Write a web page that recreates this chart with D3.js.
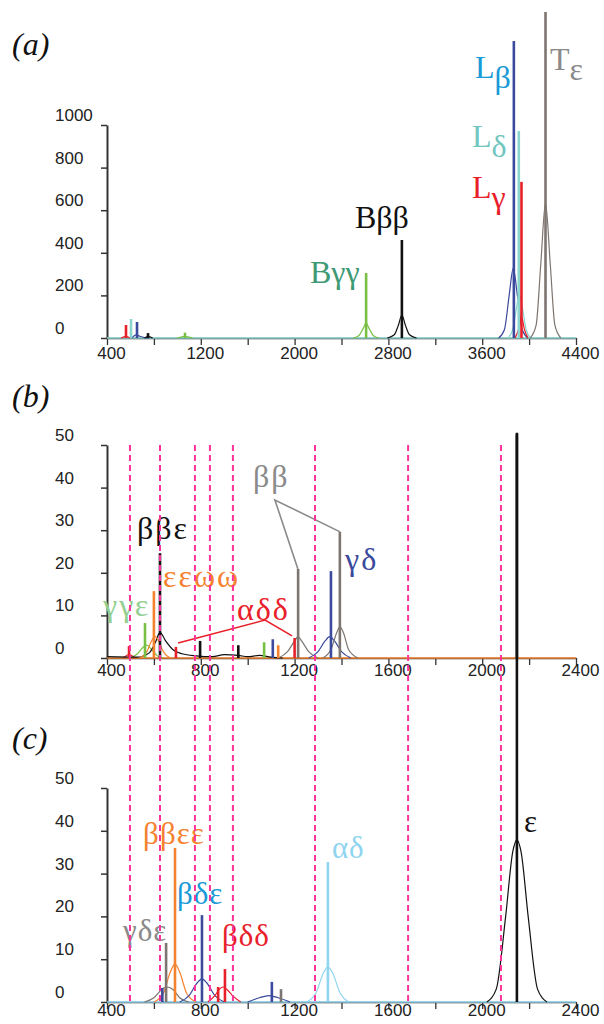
<!DOCTYPE html>
<html><head><meta charset="utf-8">
<script src="https://cdn.jsdelivr.net/npm/d3@7"></script>
<style>
html,body{margin:0;padding:0;background:#fff;}
svg{display:block;}
.tk text{font-family:"Liberation Sans",Arial,sans-serif;font-size:17px;fill:#222;}
.lab{font-family:"Liberation Serif","Times New Roman","DejaVu Serif",serif;}
</style></head>
<body>
<script>
// ---------------- DATA ----------------
const aTicksY = [0, 200, 400, 600, 800, 1000];
const aTicksX = [400, 800, 1200, 1600, 2000, 2400, 2800, 3200, 3600, 4000, 4400];
const aLabelsX = [400, 1200, 2000, 2800, 3600, 4400];
const bcTicksY = [0, 10, 20, 30, 40, 50];
const bcTicksX = [400, 600, 800, 1000, 1200, 1400, 1600, 1800, 2000, 2200, 2400];
const bcLabelsX = [400, 800, 1200, 1600, 2000, 2400];
const dashedX = [498, 626, 775, 839, 937, 1287, 1684, 2080];

// sticks: series, position, intensity
const aSticks = [
  {s:"red", x:562, v:61}, {s:"teal", x:605, v:89}, {s:"navy", x:656, v:75},
  {s:"black", x:750, v:23}, {s:"green", x:1065, v:25},
  {s:"green", x:2610, v:305}, {s:"black", x:2915, v:460},
  {s:"navy", x:3870, v:1394}, {s:"teal", x:3912, v:972}, {s:"red", x:3935, v:733},
  {s:"taupe", x:4140, v:1530}
];
const aCurves = [
  {s:"red", pts:[[520,0],[560,8],[600,0]]},
  {s:"navy", pts:[[610,0],[650,15],[680,8],[720,2],[760,0]]},
  {s:"black", pts:[[720,0],[750,6],[790,0]]},
  {s:"green", pts:[[1000,0],[1065,8],[1130,0]]},
  {s:"green", pts:[[2500,0],[2550,12],[2585,45],[2610,70],[2635,45],[2670,12],[2720,0]]},
  {s:"black", pts:[[2790,0],[2850,15],[2885,60],[2915,108],[2945,60],[2980,15],[3040,0]]},
  {s:"navy", pts:[[3740,0],[3790,40],[3830,200],[3865,328],[3900,200],[3940,40],[3990,0]]},
  {s:"teal", pts:[[3820,0],[3860,40],[3895,150],[3915,210],[3940,150],[3975,40],[4010,0]]},
  {s:"red", pts:[[3880,0],[3910,40],[3935,100],[3960,40],[3990,0]]},
  {s:"taupe", pts:[[4010,0],[4060,60],[4100,350],[4140,634],[4180,350],[4220,60],[4270,0]]}
];
const aLabels = [
  {t:"Bγγ", sub:"", s:"bggLab", x:2131, v:258},
  {t:"Bββ", sub:"", s:"black", x:2515, v:516},
  {t:"L", sub:"β", s:"blueLab", x:3539, v:1221},
  {t:"L", sub:"δ", s:"tealLab", x:3513, v:897},
  {t:"L", sub:"γ", s:"red", x:3513, v:657},
  {t:"T", sub:"ε", s:"grayLab", x:4178, v:1258}
];

const bSticks = [
  {s:"red", x:494, v:2.8}, {s:"green", x:562, v:8.2}, {s:"orange", x:600, v:15.7},
  {s:"black", x:626, v:24.6}, {s:"red", x:694, v:2.6}, {s:"black", x:797, v:4},
  {s:"black", x:960, v:3}, {s:"green", x:1070, v:3.7}, {s:"navy", x:1107, v:4.4},
  {s:"orange", x:1130, v:3}, {s:"red", x:1200, v:4.7}, {s:"taupe", x:1215, v:20.9},
  {s:"navy", x:1355, v:20.4}, {s:"taupe", x:1393, v:29.6}, {s:"black", x:2148, v:52.5}
];
const bCurves = [
  {s:"green", pts:[[500,0],[530,1],[555,2.6],[570,3],[590,2],[615,0.5],[640,0]]},
  {s:"red", pts:[[470,0],[494,0.8],[520,0]]},
  {s:"black", pts:[[400,0.3],[530,0.2],[580,1.2],[605,3.5],[626,6],[650,4],[680,2],[720,1],[780,0.5],[850,0.3],[900,0.8],[960,0.6],[1000,0.3],[1050,0.6],[1100,0.2],[1150,0]]},
  {s:"orange", pts:[[540,0],[570,1.5],[590,4],[605,5],[620,4],[640,1.5],[670,0]]},
  {s:"taupe", pts:[[1130,0],[1170,1.5],[1200,4],[1215,5],[1230,4],[1260,1.5],[1300,0]]},
  {s:"navy", pts:[[1260,0],[1300,1.5],[1330,4],[1350,5],[1370,4],[1400,1.5],[1440,0]]},
  {s:"taupe", pts:[[1320,0],[1355,2],[1380,6],[1393,7.3],[1408,6],[1430,2],[1470,0]]}
];
const bLabels = [
  {t:"ββ", sub:"", s:"grayLab", x:1023, v:40.1},
  {t:"ββε", sub:"", s:"black", x:528, v:27.9},
  {t:"εεωω", sub:"", s:"orange", x:639, v:16.7},
  {t:"γγε", sub:"", s:"ltgreen", x:383, v:9.9},
  {t:"αδδ", sub:"", s:"red", x:954, v:8.9},
  {t:"γδ", sub:"", s:"navyLab", x:1415, v:20.7}
];
const bPointers = [
  {s:"grayLab", pts:[[1214,20.9],[1116,37.1],[1394,29.6]]},
  {s:"red", pts:[[703,3.5],[1074,8.9],[1189,5.2]]}
];

const cSticks = [
  {s:"navy", x:636, v:3.3}, {s:"taupe", x:652, v:13.8}, {s:"orange", x:690, v:36},
  {s:"navy", x:805, v:20.3}, {s:"red", x:874, v:3.5}, {s:"red", x:903, v:7.7},
  {s:"navy", x:1103, v:4.7}, {s:"taupe", x:1142, v:3}, {s:"ltblue", x:1342, v:32.7},
  {s:"black", x:2148, v:133}
];
const cCurves = [
  {s:"taupe", pts:[[560,0],[600,1],[635,3],[655,3.5],[680,3],[710,1],[750,0]]},
  {s:"orange", pts:[[600,0],[640,2],[670,7],[690,8.9],[710,7],[740,2],[780,0]]},
  {s:"navy", pts:[[710,0],[750,1.5],[785,4.5],[805,5.4],[825,4.5],[860,1.5],[900,0]]},
  {s:"red", pts:[[830,0],[860,1.5],[880,3],[895,3.5],[910,3],[935,1.5],[970,0]]},
  {s:"navy", pts:[[1000,0],[1050,1],[1090,1.5],[1130,1],[1180,0]]},
  {s:"ltblue", pts:[[1250,0],[1290,2],[1325,7],[1342,8.2],[1360,7],[1395,2],[1430,0]]},
  {s:"black", pts:[[2020,0],[2060,3],[2100,20],[2130,35],[2148,37.9],[2166,35],[2196,20],[2236,3],[2276,0]]}
];
const cLabels = [
  {t:"γδε", sub:"", s:"grayLab", x:468, v:14.3},
  {t:"ββεε", sub:"", s:"orange", x:554, v:36.9},
  {t:"βδε", sub:"", s:"blueLab", x:698, v:22.9},
  {t:"βδδ", sub:"", s:"red", x:890, v:13.1},
  {t:"αδ", sub:"", s:"ltblue", x:1359, v:33.6},
  {t:"ε", sub:"", s:"black", x:2178, v:39.7}
];

// ---------------- STYLE ----------------
const color = {
  red:"#e8202a", teal:"#8ad6cf", navy:"#3b4a9c", black:"#111111", green:"#78c043",
  taupe:"#7d7570", orange:"#f5822f", ltblue:"#8fd4f0",
  bggLab:"#3d9a74", blueLab:"#1a9ad6", tealLab:"#72c6c0", grayLab:"#8a8a8a",
  ltgreen:"#92d092", navyLab:"#3b4a9c"
};

const svg = d3.select("body").append("svg").attr("width",604).attr("height",1024);

function drawPanel(p) {
  const x = d3.scaleLinear().domain(p.xd).range([107, 576]);
  const y = d3.scaleLinear().domain(p.yd).range([p.base, p.top]);
  const g = svg.append("g");

  const xa = g.append("g").attr("class","tk").attr("transform",`translate(0,${p.base})`)
    .call(d3.axisBottom(x).tickValues(p.ticksX).tickSize(7).tickSizeOuter(0)
      .tickFormat(d => p.labelsX.includes(d) ? String(d) : ""));
  xa.selectAll("line").attr("stroke","#333").attr("stroke-width",1.3);
  xa.select(".domain").attr("stroke","#333").attr("stroke-width",1.3);
  xa.selectAll("text").attr("x",4).attr("y",p.labY);
  const ya = g.append("g").attr("class","tk").attr("transform","translate(107,0)")
    .call(d3.axisLeft(y).tickValues(p.ticksY).tickSize(6).tickSizeOuter(0).tickFormat(d3.format("d")));
  ya.selectAll("line").attr("stroke","#333").attr("stroke-width",1.5);
  ya.select(".domain").attr("stroke","#333").attr("stroke-width",2);
  ya.selectAll("text").attr("text-anchor","start").attr("x",55-107).attr("y",-10);

  return {g, x, y};
}

function drawData(P, curves, sticks, baseColor) {
  const {g, x, y} = P;
  const line = d3.line().x(d => x(d[0])).y(d => y(d[1])).curve(d3.curveMonotoneX);
  g.append("line").attr("x1", x.range()[0]).attr("x2", x.range()[1])
    .attr("y1", y(0)).attr("y2", y(0)).attr("stroke", color[baseColor]).attr("stroke-width",1.6);
  g.selectAll(null).data(curves).join("path")
    .attr("d", d => line(d.pts)).attr("fill","none")
    .attr("stroke", d => color[d.s]).attr("stroke-width",1.2);
  g.selectAll(null).data(sticks).join("line")
    .attr("x1", d => x(d.x)).attr("x2", d => x(d.x))
    .attr("y1", y(0)).attr("y2", d => y(d.v))
    .attr("stroke", d => color[d.s]).attr("stroke-width",2.6);
}

function drawLabels(P, labels, size, spacing, subShift) {
  const {g, x, y} = P;
  const t = g.selectAll(null).data(labels).join("text").attr("class","lab")
    .attr("x", d => x(d.x)).attr("y", d => y(d.v))
    .attr("font-size", size).attr("letter-spacing", spacing)
    .attr("fill", d => color[d.s]);
  t.append("tspan").text(d => d.t);
  t.filter(d => d.sub).append("tspan").attr("dy", subShift).text(d => d.sub);
}

const A = drawPanel({xd:[400,4400], yd:[0,1000], base:338, top:125, ticksX:aTicksX, labelsX:aLabelsX, ticksY:aTicksY, labY:9});
const B = drawPanel({xd:[400,2400], yd:[0,50], base:658, top:445, ticksX:bcTicksX, labelsX:bcLabelsX, ticksY:bcTicksY, labY:6});
const C = drawPanel({xd:[400,2400], yd:[0,50], base:1002, top:788, ticksX:bcTicksX, labelsX:bcLabelsX, ticksY:bcTicksY, labY:2});

svg.selectAll(null).data(dashedX).join("line")
  .attr("x1", d => B.x(d)).attr("x2", d => B.x(d))
  .attr("y1", B.y(50)).attr("y2", C.y(0))
  .attr("stroke","#ff3399").attr("stroke-width",2).attr("stroke-dasharray","6,4");

drawData(A, aCurves, aSticks, "teal");
drawData(B, bCurves, bSticks, "orange");
drawData(C, cCurves, cSticks, "ltblue");

const pl = d3.line().x(d => B.x(d[0])).y(d => B.y(d[1]));
B.g.selectAll(null).data(bPointers).join("path")
  .attr("d", d => pl(d.pts)).attr("fill","none")
  .attr("stroke", d => color[d.s]).attr("stroke-width",1.6);

drawLabels(A, aLabels, 32, 0, 10);
drawLabels(B, bLabels, 32, 2, 0);
drawLabels(C, cLabels, 31, 1, 0);

svg.selectAll(null).data([["(a)",55],["(b)",407],["(c)",749]]).join("text")
  .attr("class","lab").attr("x",12).attr("y", d => d[1])
  .attr("font-size",32).attr("font-style","italic").attr("fill","#111").text(d => d[0]);
</script>
</body></html>
